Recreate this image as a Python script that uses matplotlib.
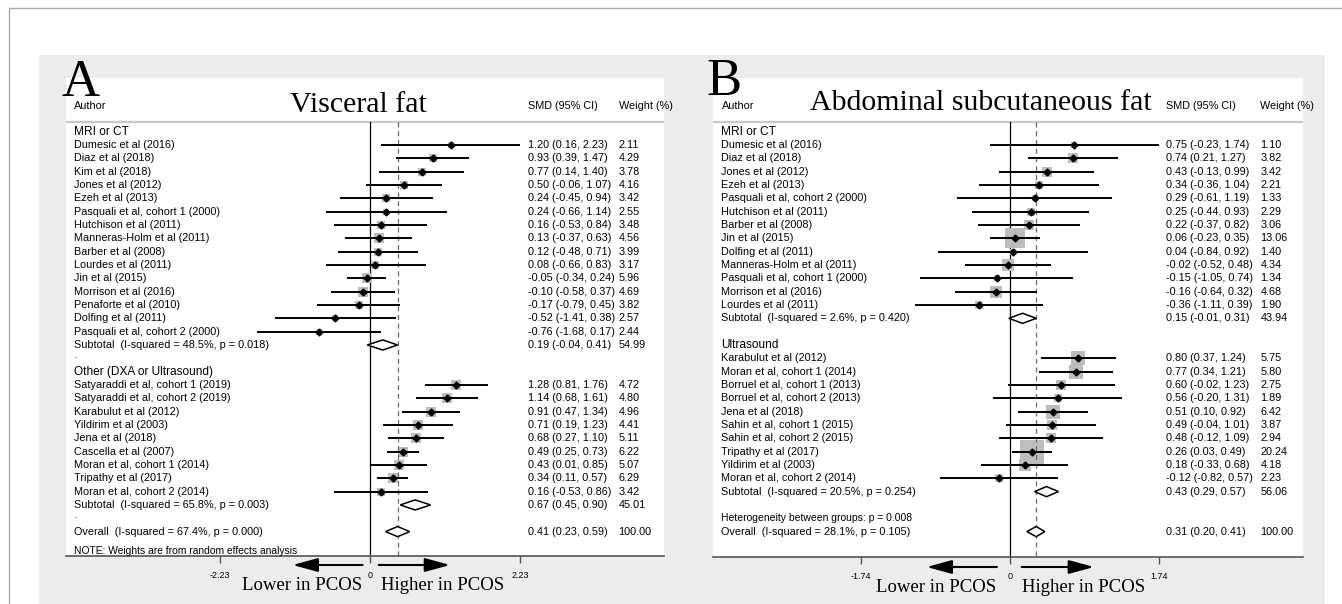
import matplotlib
matplotlib.use("Agg")
import matplotlib.pyplot as plt
from matplotlib.patches import Rectangle, Polygon
from matplotlib.transforms import blended_transform_factory
import numpy as np

SANS = "Liberation Sans"
SERIF = "Liberation Serif"

# ---------------- Panel A: Visceral fat ----------------
a1_group = "MRI or CT"
a1_names = ["Dumesic et al (2016)", "Diaz et al (2018)", "Kim et al (2018)", "Jones et al (2012)",
            "Ezeh et al (2013)", "Pasquali et al, cohort 1 (2000)", "Hutchison et al (2011)",
            "Manneras-Holm et al (2011)", "Barber et al (2008)", "Lourdes et al (2011)",
            "Jin et al (2015)", "Morrison et al (2016)", "Penaforte et al (2010)",
            "Dolfing et al (2011)", "Pasquali et al, cohort 2 (2000)"]
a1_smd = [1.20, 0.93, 0.77, 0.50, 0.24, 0.24, 0.16, 0.13, 0.12, 0.08, -0.05, -0.10, -0.17, -0.52, -0.76]
a1_lo = [0.16, 0.39, 0.14, -0.06, -0.45, -0.66, -0.53, -0.37, -0.48, -0.66, -0.34, -0.58, -0.79, -1.41, -1.68]
a1_hi = [2.23, 1.47, 1.40, 1.07, 0.94, 1.14, 0.84, 0.63, 0.71, 0.83, 0.24, 0.37, 0.45, 0.38, 0.17]
a1_wt = [2.11, 4.29, 3.78, 4.16, 3.42, 2.55, 3.48, 4.56, 3.99, 3.17, 5.96, 4.69, 3.82, 2.57, 2.44]
a1_sub_label = "Subtotal  (I-squared = 48.5%, p = 0.018)"
a1_sub = [0.19, -0.04, 0.41, 54.99]

a2_group = "Other (DXA or Ultrasound)"
a2_names = ["Satyaraddi et al, cohort 1 (2019)", "Satyaraddi et al, cohort 2 (2019)",
            "Karabulut et al (2012)", "Yildirim et al (2003)", "Jena et al (2018)",
            "Cascella et al (2007)", "Moran et al, cohort 1 (2014)", "Tripathy et al (2017)",
            "Moran et al, cohort 2 (2014)"]
a2_smd = [1.28, 1.14, 0.91, 0.71, 0.68, 0.49, 0.43, 0.34, 0.16]
a2_lo = [0.81, 0.68, 0.47, 0.19, 0.27, 0.25, 0.01, 0.11, -0.53]
a2_hi = [1.76, 1.61, 1.34, 1.23, 1.10, 0.73, 0.85, 0.57, 0.86]
a2_wt = [4.72, 4.80, 4.96, 4.41, 5.11, 6.22, 5.07, 6.29, 3.42]
a2_sub_label = "Subtotal  (I-squared = 65.8%, p = 0.003)"
a2_sub = [0.67, 0.45, 0.90, 45.01]

a_overall_label = "Overall  (I-squared = 67.4%, p = 0.000)"
a_overall = [0.41, 0.23, 0.59, 100.00]
a_ticks = [-2.23, 0, 2.23]
a_tick_labels = ["-2.23", "0", "2.23"]

# ---------------- Panel B: Abdominal subcutaneous fat ----------------
b1_group = "MRI or CT"
b1_names = ["Dumesic et al (2016)", "Diaz et al (2018)", "Jones et al (2012)", "Ezeh et al (2013)",
            "Pasquali et al, cohort 2 (2000)", "Hutchison et al (2011)", "Barber et al (2008)",
            "Jin et al (2015)", "Dolfing et al (2011)", "Manneras-Holm et al (2011)",
            "Pasquali et al, cohort 1 (2000)", "Morrison et al (2016)", "Lourdes et al (2011)"]
b1_smd = [0.75, 0.74, 0.43, 0.34, 0.29, 0.25, 0.22, 0.06, 0.04, -0.02, -0.15, -0.16, -0.36]
b1_lo = [-0.23, 0.21, -0.13, -0.36, -0.61, -0.44, -0.37, -0.23, -0.84, -0.52, -1.05, -0.64, -1.11]
b1_hi = [1.74, 1.27, 0.99, 1.04, 1.19, 0.93, 0.82, 0.35, 0.92, 0.48, 0.74, 0.32, 0.39]
b1_wt = [1.10, 3.82, 3.42, 2.21, 1.33, 2.29, 3.06, 13.06, 1.40, 4.34, 1.34, 4.68, 1.90]
b1_sub_label = "Subtotal  (I-squared = 2.6%, p = 0.420)"
b1_sub = [0.15, -0.01, 0.31, 43.94]

b2_group = "Ultrasound"
b2_names = ["Karabulut et al (2012)", "Moran et al, cohort 1 (2014)", "Borruel et al, cohort 1 (2013)",
            "Borruel et al, cohort 2 (2013)", "Jena et al (2018)", "Sahin et al, cohort 1 (2015)",
            "Sahin et al, cohort 2 (2015)", "Tripathy et al (2017)", "Yildirim et al (2003)",
            "Moran et al, cohort 2 (2014)"]
b2_smd = [0.80, 0.77, 0.60, 0.56, 0.51, 0.49, 0.48, 0.26, 0.18, -0.12]
b2_lo = [0.37, 0.34, -0.02, -0.20, 0.10, -0.04, -0.12, 0.03, -0.33, -0.82]
b2_hi = [1.24, 1.21, 1.23, 1.31, 0.92, 1.01, 1.09, 0.49, 0.68, 0.57]
b2_wt = [5.75, 5.80, 2.75, 1.89, 6.42, 3.87, 2.94, 20.24, 4.18, 2.23]
b2_sub_label = "Subtotal  (I-squared = 20.5%, p = 0.254)"
b2_sub = [0.43, 0.29, 0.57, 56.06]

b_het = "Heterogeneity between groups: p = 0.008"
b_overall_label = "Overall  (I-squared = 28.1%, p = 0.105)"
b_overall = [0.31, 0.20, 0.41, 100.00]
b_ticks = [-1.74, 0, 1.74]
b_tick_labels = ["-1.74", "0", "1.74"]

# ---------------- Figure / layout ----------------
W, H = 1342, 604
fig = plt.figure(figsize=(W / 100, H / 100), dpi=100)
fig.patch.set_facecolor("white")
bg = fig.add_axes([0, 0, 1, 1])
bg.set_xlim(0, W)
bg.set_ylim(H, 0)
bg.axis("off")
bg.add_patch(Rectangle((9, 8), W + 20, H + 20, fc="white", ec="#a8a8a8", lw=1))
bg.add_patch(Rectangle((39, 55), 1325 - 39, H, fc="#ececec", ec="none"))

ROW0, ROWH = 131.7, 13.33  # pixel y of first row and row height
SEP_ROW = (122 - ROW0) / ROWH


def make_axes(left, top, right, bottom, zero_px, ppu):
    ax = fig.add_axes([left / W, 1 - bottom / H, (right - left) / W, (bottom - top) / H])
    ax.set_xlim((left - zero_px) / ppu, (right - zero_px) / ppu)
    ax.set_ylim((bottom - ROW0) / ROWH, (top - ROW0) / ROWH)
    ax.set_facecolor("white")
    for s in ["left", "right", "top"]:
        ax.spines[s].set_visible(False)
    ax.spines["bottom"].set_color("#555555")
    ax.spines["bottom"].set_linewidth(1.2)
    ax.set_yticks([])
    return ax


def diamond(ax, est, lo, hi, r, h=0.38):
    ax.add_patch(Polygon([(lo, r), (est, r - h), (hi, r), (est, r + h)], closed=True,
                         fc="white", ec="black", lw=1.1, zorder=5))


def draw_panel(ax, groups, overall, overall_label, cols, box_k, filler, het, note,
               ticks, tick_labels, arrows, txt_pos):
    tr = blended_transform_factory(ax.transAxes, ax.transData)
    lab_x, smd_x, wt_x = cols
    fs = 7.8
    r = 0
    for gname, names, est, lo, hi, wt, sub_label, sub in groups:
        ax.text(lab_x, r, gname, transform=tr, fontsize=8.6, va="center", ha="left", family=SANS)
        r += 1
        for n, e, l, h, w in zip(names, est, lo, hi, wt):
            side = box_k * np.sqrt(w) * 0.72
            ax.scatter([e], [r], marker="s", s=side ** 2, color="#bdbdbd", linewidths=0, zorder=2)
            ax.plot([l, h], [r, r], color="black", lw=1.4, zorder=3, solid_capstyle="butt")
            ax.plot([e], [r], marker="D", ms=3.5, color="black", zorder=4)
            ax.text(lab_x, r, n, transform=tr, fontsize=fs, va="center", ha="left", family=SANS)
            ax.text(smd_x, r, f"{e:.2f} ({l:.2f}, {h:.2f})", transform=tr, fontsize=fs,
                    va="center", ha="left", family=SANS)
            ax.text(wt_x, r, f"{w:.2f}", transform=tr, fontsize=fs, va="center", ha="left", family=SANS)
            r += 1
        se, sl, sh, sw = sub
        diamond(ax, se, sl, sh, r)
        ax.text(lab_x, r, sub_label, transform=tr, fontsize=fs, va="center", ha="left", family=SANS)
        ax.text(smd_x, r, f"{se:.2f} ({sl:.2f}, {sh:.2f})", transform=tr, fontsize=fs,
                va="center", ha="left", family=SANS)
        ax.text(wt_x, r, f"{sw:.2f}", transform=tr, fontsize=fs, va="center", ha="left", family=SANS)
        r += 1
        if filler:
            ax.text(lab_x, r - 0.1, filler, transform=tr, fontsize=6, va="center", ha="left", family=SANS)
        r += 1
    if het:
        ax.text(lab_x, r, het, transform=tr, fontsize=7.5, va="center", ha="left", family=SANS)
        r += 1
    oe, ol, oh, ow = overall
    diamond(ax, oe, ol, oh, r)
    ax.text(lab_x, r, overall_label, transform=tr, fontsize=fs, va="center", ha="left", family=SANS)
    ax.text(smd_x, r, f"{oe:.2f} ({ol:.2f}, {oh:.2f})", transform=tr, fontsize=fs,
            va="center", ha="left", family=SANS)
    ax.text(wt_x, r, f"{ow:.2f}", transform=tr, fontsize=fs, va="center", ha="left", family=SANS)
    if note:
        ax.text(lab_x, r + 1.45, note, transform=tr, fontsize=7.4, va="center", ha="left", family=SANS)

    # headers
    ax.text(lab_x, -1.9, "Author", transform=tr, fontsize=fs, va="center", ha="left", family=SANS)
    ax.text(smd_x, -1.9, "SMD (95% CI)", transform=tr, fontsize=fs, va="center", ha="left", family=SANS)
    ax.text(wt_x, -1.9, "Weight (%)", transform=tr, fontsize=fs, va="center", ha="left",
            family=SANS, clip_on=False)
    ax.axhline(SEP_ROW, color="#c8c8c8", lw=1.6, zorder=1)

    ybot = ax.get_ylim()[0]
    ax.plot([0, 0], [SEP_ROW, ybot], color="black", lw=0.9, zorder=1)
    ax.plot([oe, oe], [SEP_ROW, ybot], color="#6a6a6a", lw=0.9, ls=(0, (4, 3)), zorder=2.5)

    ax.set_xticks(ticks)
    ax.set_xticklabels(tick_labels)
    ax.tick_params(axis="x", direction="out", length=5, width=1, color="#555555",
                   labelsize=6.5, pad=5.5)
    for lbl in ax.get_xticklabels():
        lbl.set_family(SANS)

    # arrows and direction captions (x in SMD units, y in figure pixels)
    btr = blended_transform_factory(ax.transData, bg.transData)
    (lt, lh), (rt, rh), ay = arrows
    for x0, x1 in [(lt, lh), (rt, rh)]:
        ax.annotate("", xy=(x1, ay), xytext=(x0, ay), xycoords=btr, textcoords=btr,
                    arrowprops=dict(arrowstyle="-|>,head_length=1.1,head_width=0.3",
                                    lw=1.5, color="black", mutation_scale=14,
                                    shrinkA=0, shrinkB=0), annotation_clip=False)
    lx, hx, ty = txt_pos
    ax.text(lx, ty, "Lower in PCOS", transform=btr, fontsize=13.5, family=SERIF,
            ha="right", va="baseline", clip_on=False)
    ax.text(hx, ty, "Higher in PCOS", transform=btr, fontsize=13.5, family=SERIF,
            ha="left", va="baseline", clip_on=False)


# Panel A
axA = make_axes(65.7, 78, 664, 556, zero_px=370, ppu=67.3)
draw_panel(axA,
           [(a1_group, a1_names, a1_smd, a1_lo, a1_hi, a1_wt, a1_sub_label, a1_sub),
            (a2_group, a2_names, a2_smd, a2_lo, a2_hi, a2_wt, a2_sub_label, a2_sub)],
           a_overall, a_overall_label, cols=(0.0139, 0.7727, 0.9241), box_k=4.3, filler=".",
           het=None, note="NOTE: Weights are from random effects analysis",
           ticks=a_ticks, tick_labels=a_tick_labels,
           arrows=((-0.11, -1.15), (0.13, 1.19), 565), txt_pos=(-0.11, 0.16, 590))

# Panel B
axB = make_axes(713, 78, 1302.7, 557, zero_px=1009.7, ppu=85.6)
draw_panel(axB,
           [(b1_group, b1_names, b1_smd, b1_lo, b1_hi, b1_wt, b1_sub_label, b1_sub),
            (b2_group, b2_names, b2_smd, b2_lo, b2_hi, b2_wt, b2_sub_label, b2_sub)],
           b_overall, b_overall_label, cols=(0.0144, 0.7689, 0.9284), box_k=5.5, filler=None,
           het=b_het, note=None, ticks=b_ticks, tick_labels=b_tick_labels,
           arrows=((-0.15, -0.97), (0.14, 0.985), 567), txt_pos=(-0.16, 0.145, 592))

# Titles and panel letters (figure texts draw above the panel axes)
fig.text(358.6 / W, 1 - 111.5 / H, "Visceral fat", fontsize=21.5, family=SERIF,
         ha="center", va="baseline")
fig.text(981 / W, 1 - 110 / H, "Abdominal subcutaneous fat", fontsize=21.5, family=SERIF,
         ha="center", va="baseline")
fig.text(61 / W, 1 - 96 / H, "A", fontsize=38, family=SERIF, ha="left", va="baseline")
fig.text(706 / W, 1 - 95 / H, "B", fontsize=38, family=SERIF, ha="left", va="baseline")

fig.savefig("out.png", dpi=100)
